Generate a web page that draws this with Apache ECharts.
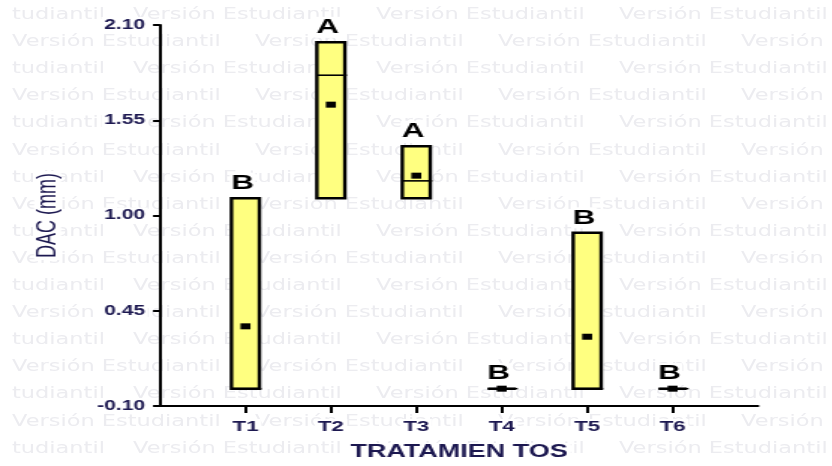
<!DOCTYPE html>
<html>
<head>
<meta charset="utf-8">
<script src="https://cdn.jsdelivr.net/npm/echarts@6/dist/echarts.min.js"></script>
<style>
  html, body { margin: 0; padding: 0; background: #fff; overflow: hidden; }
  #wrap { position: absolute; left: 0; top: 0; width: 555px; height: 466px; transform-origin: 0 0; }
  #wm, #chart { position: absolute; left: 0; top: 0; width: 555px; height: 466px; }
  #wm { overflow: hidden; font-family: "DejaVu Sans", sans-serif; font-size: 15px; line-height: 18px; color: #ececf0; white-space: nowrap; }
  #wm span { position: absolute; }
</style>
</head>
<body>
<div id="wrap">
  <div id="wm"></div>
  <div id="chart"></div>
</div>
<script>
// Treatments and their summary statistics (DAC, mm)
const treatments = ['T1', 'T2', 'T3', 'T4', 'T5', 'T6'];
const q1Values = [0.00, 1.10, 1.10, 0.00, 0.00, 0.00];
const medianValues = [0.00, 1.81, 1.20, 0.00, 0.00, 0.00];
const q3Values = [1.10, 2.00, 1.40, 0.00, 0.90, 0.00];
const meanValues = [0.36, 1.64, 1.23, 0.00, 0.30, 0.00];
const groupLetters = ['B', 'A', 'A', 'B', 'B', 'B'];
const yTicks = [-0.10, 0.45, 1.00, 1.55, 2.10];
const watermarkText = 'Versión Estudiantil';

// The whole drawing is laid out narrow and stretched horizontally.
const SX = 832 / 555;
const hx = v => v / SX;
document.getElementById('wrap').style.transform = 'scale(' + SX + ',1)';

// Background watermark rows
(function () {
  const wm = document.getElementById('wm');
  const add = (txt, x, y) => {
    const s = document.createElement('span');
    s.textContent = txt;
    s.style.left = hx(x) + 'px';
    s.style.top = (y - 9) + 'px';
    wm.appendChild(s);
  };
  for (let k = 0; k < 17; k++) {
    const y = 14 + k * 27.1;
    if (k % 2 === 1) {
      for (let j = 0; j < 4; j++) add(watermarkText, 12 + j * 243, y);
    } else {
      add('tudiantil', 12, y);
      for (let j = 0; j < 3; j++) add(watermarkText, 133 + j * 243, y);
    }
  }
})();

const labelColor = '#1c1850';
const labelFont = 'Liberation Sans';

const boxData = treatments.map((t, i) => [i + 1, q1Values[i], medianValues[i], q3Values[i], meanValues[i]]);

function renderBox(params, api) {
  const i = params.dataIndex;
  const x = api.value(0);
  const top = api.coord([x, api.value(3)]);
  const bot = api.coord([x, api.value(1)]);
  const med = api.coord([x, api.value(2)]);
  const avg = api.coord([x, api.value(4)]);
  const cx = top[0];
  const hw = hx(14);
  return {
    type: 'group',
    children: [
      {
        type: 'rect',
        shape: { x: cx - hw, y: top[1], width: 2 * hw, height: bot[1] - top[1] },
        style: { fill: '#ffff80', stroke: '#000', lineWidth: 2.4 }
      },
      {
        type: 'line',
        shape: { x1: cx - hw, y1: med[1], x2: cx + hw + hx(2), y2: med[1] },
        style: { stroke: '#000', lineWidth: 1.6 }
      },
      {
        type: 'rect',
        shape: { x: cx - hx(5), y: avg[1] - 3, width: hx(10), height: 6 },
        style: { fill: '#000' }
      },
      {
        type: 'text',
        style: {
          text: groupLetters[i],
          x: cx - hx(3),
          y: top[1] - 15,
          align: 'center',
          verticalAlign: 'middle',
          font: 'bold 21px "Liberation Sans"',
          fill: '#000',
          backgroundColor: '#fff',
          padding: [0, 1]
        }
      }
    ]
  };
}

const chart = echarts.init(document.getElementById('chart'), null, { renderer: 'canvas', width: 555, height: 466 });
chart.setOption({
  animation: false,
  backgroundColor: 'transparent',
  grid: { left: hx(160), right: hx(74), top: 25, bottom: 60 },
  xAxis: {
    type: 'value',
    min: 0,
    max: treatments.length + 1,
    interval: 1,
    name: 'TRATAMIEN TOS',
    nameLocation: 'middle',
    nameGap: 37,
    nameTextStyle: { fontFamily: labelFont, fontSize: 18, fontWeight: 'bold', color: labelColor, backgroundColor: '#fff', padding: [0, 2] },
    axisLine: { show: true, onZero: false, lineStyle: { color: '#000', width: 2 } },
    axisTick: { show: true, length: 7, lineStyle: { color: '#000', width: 2 } },
    axisLabel: {
      margin: 13,
      fontFamily: labelFont,
      fontSize: 15,
      fontWeight: 'bold',
      color: labelColor,
      backgroundColor: '#fff',
      padding: [0, 2],
      showMinLabel: false,
      showMaxLabel: false,
      formatter: v => treatments[v - 1] || ''
    },
    splitLine: { show: false },
    z: 3
  },
  yAxis: {
    type: 'value',
    min: yTicks[0],
    max: yTicks[yTicks.length - 1],
    interval: 0.55,
    name: 'DAC (mm)',
    nameLocation: 'middle',
    nameGap: 66,
    nameTextStyle: { fontFamily: labelFont, fontSize: 18, color: labelColor, backgroundColor: '#fff', padding: [0, 2] },
    axisLine: { show: true, onZero: false, lineStyle: { color: '#000', width: 2 } },
    axisTick: { show: true, length: hx(7), lineStyle: { color: '#000', width: 2 } },
    axisLabel: {
      margin: hx(12),
      fontFamily: labelFont,
      fontSize: 14,
      fontWeight: 'bold',
      color: labelColor,
      backgroundColor: '#fff',
      padding: [1, 2],
      formatter: v => v.toFixed(2)
    },
    splitLine: { show: false },
    z: 3
  },
  series: [{
    type: 'custom',
    renderItem: renderBox,
    data: boxData,
    clip: false,
    z: 5
  }]
});
</script>
</body>
</html>
